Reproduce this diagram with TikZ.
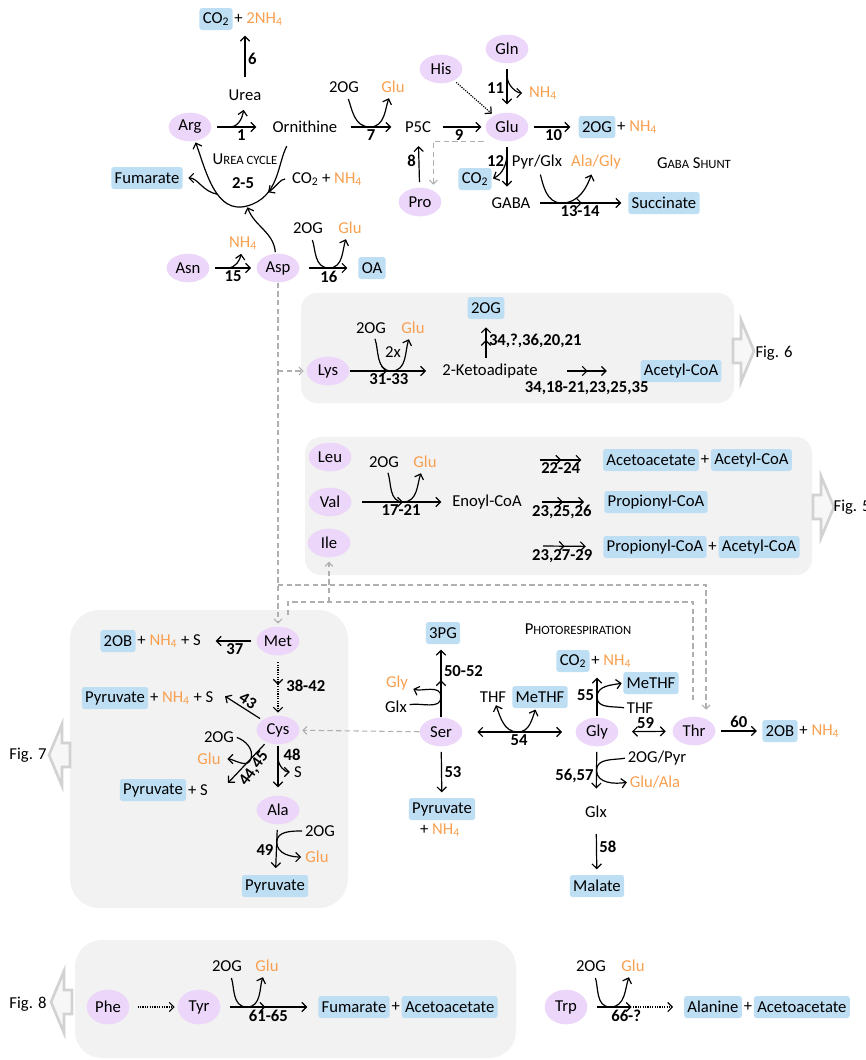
\documentclass[tikz,border=0pt]{standalone}
\usepackage{fontspec}
\setmainfont{Carlito}
\usetikzlibrary{arrows.meta, positioning, shapes.geometric, decorations.markings, calc}
\definecolor{aaviolet}{RGB}{236,214,250}
\definecolor{prodblue}{RGB}{190,222,244}
\definecolor{nhorange}{RGB}{249,160,80}
\definecolor{panelgray}{RGB}{242,242,242}
\definecolor{linkgray}{RGB}{175,175,175}
\newcommand{\nh}[1]{\textcolor{nhorange}{#1}}
\newcommand{\smallcap}[2]{#1{\fontsize{9.5}{11}\selectfont #2}}

\begin{document}
\begin{tikzpicture}[
    x=0.75pt, y=-0.75pt,
    font=\fontsize{12.5}{14}\selectfont,
    amino/.style={ellipse, fill=aaviolet, minimum width=32pt, minimum height=21.5pt, inner sep=0pt},
    prod/.style={rectangle, fill=prodblue, rounded corners=2pt, inner xsep=2.5pt, inner ysep=0pt, minimum height=16.5pt},
    cpd/.style={inner sep=1pt},
    num/.style={font=\fontsize{12.5}{14}\selectfont\bfseries, inner sep=1.8pt},
    rx/.style={-{Straight Barb[length=3.5pt,width=7pt]}, line width=0.9pt, shorten <=4pt, shorten >=4pt},
    rxx/.style={rx, arrows={Straight Barb[length=3.5pt,width=7pt]-Straight Barb[length=3.5pt,width=7pt]}},
    multi/.style={postaction={decorate}, decoration={markings, mark=at position #1 with {\arrow{Straight Barb[length=3.5pt,width=7pt]}}}},
    multi/.default=0.5,
    stepdots/.style={dash pattern=on 0.9pt off 0.9pt},
    link/.style={draw=linkgray, line width=0.8pt, dash pattern=on 4pt off 2.5pt, -{Straight Barb[length=3pt,width=6pt]}, shorten >=2pt},
    panel/.style={fill=panelgray, rounded corners=12pt},
    figarr/.style={draw=gray!35, fill=gray!6, line width=2pt},
    figright/.pic={\path[figarr] (0,-12) -- (8,-12) -- (8,-31) -- (21,0) -- (8,31) -- (8,12) -- (0,12) -- cycle;}
]
\useasboundingbox (0,0) rectangle (866,1060);

% panels and figure pointers
\fill[panel] (301,293) rectangle (734,403);
\fill[panel] (305,437) rectangle (812,575);
\fill[panel, rounded corners=22pt] (70,610) rectangle (348,908);
\fill[panel, rounded corners=20pt] (75,940) rectangle (516,1058);
\pic at (733,351) {figright};
\pic at (813,507) {figright};
\pic[xscale=-1] at (70,755) {figright};
\pic[xscale=-1] at (72,1002) {figright};
\node[cpd] (fig6) at (774,353) {Fig. 6};
\node[cpd, anchor=west] (fig5) at (832,507) {Fig. 5};
\node[cpd] (fig7) at (28,755) {Fig. 7};
\node[cpd] (fig8) at (28,1004) {Fig. 8};

% urea cycle, proline, glutamate
\node[prod] (co2u) at (216,19) {CO\textsubscript{2}};
\node[cpd, right=0pt of co2u] (nhu) {+ \nh{2NH\textsubscript{4}}};
\node[cpd] (urea) at (245,95) {Urea};
\node[amino] (arg) at (190,127) {Arg};
\node[cpd] (orn) at (305,127) {Ornithine};
\node[cpd] (og7) at (344,87) {2OG};
\node[cpd] (glu7) at (393,87) {\nh{Glu}};
\node[cpd] (p5c) at (418,127) {P5C};
\node[amino] (glu) at (507,127) {Glu};
\node[amino] (gln) at (507,49) {Gln};
\node[amino] (his) at (441,69) {His};
\node[cpd] (nh11) at (543,93) {\nh{NH\textsubscript{4}}};
\node[prod] (og10) at (597,127) {2OG};
\node[cpd, right=0pt of og10] (nh10) {+ \nh{NH\textsubscript{4}}};
\node[prod] (co2g) at (475,179) {CO\textsubscript{2}};
\node[cpd] (pyr12) at (537,162) {Pyr/Glx};
\node[cpd] (alagly) at (596,162) {\nh{Ala/Gly}};
\node[cpd] (shunt) at (694,163) {\smallcap{G}{ABA} \smallcap{S}{HUNT}};
\node[cpd] (gaba) at (511,203) {GABA};
\node[prod] (succ) at (664,203) {Succinate};
\node[amino] (pro) at (420,202) {Pro};
\node[cpd] (ucycle) at (245,159) {\smallcap{U}{REA CYCLE}};
\node[num] (l25) at (243,183) {2-5};
\node[prod] (fum) at (147,178) {Fumarate};
\node[cpd] (co2c) at (327,179) {CO\textsubscript{2} + \nh{NH\textsubscript{4}}};
\node[amino] (asn) at (188,268) {Asn};
\node[amino] (asp) at (278,268) {Asp};
\node[cpd] (nh15) at (243,243) {\nh{NH\textsubscript{4}}};
\node[cpd] (og16) at (308,228) {2OG};
\node[cpd] (glu16) at (350,228) {\nh{Glu}};
\node[prod] (oa) at (372,268) {OA};
\coordinate (ucb) at (247,206);

\draw[rx, shorten <=8pt] (urea) -- node[num,right]{6} (urea |- co2u.south);
\draw[rx, shorten >=11pt] (arg) -- coordinate[pos=0.3] (b1) node[num,below]{1} (orn);
\draw[rx, shorten <=0pt, shorten >=6pt] (b1) to[out=0,in=-100] (urea.south);
\draw[rx, shorten <=9pt, shorten >=9pt] (orn) -- coordinate[pos=0.48] (b7) node[num,below]{7} (p5c);
\draw[rx, shorten >=3pt] (og7) to[out=-70,in=180] (b7) to[out=0,in=-110] (glu7);
\draw[rx, shorten <=8pt, shorten >=3pt] (p5c) -- node[num,below]{9} (glu);
\draw[rx, stepdots, shorten <=2pt, shorten >=2pt] (his) -- (glu);
\draw[rx, shorten >=6pt] (gln) -- coordinate[pos=0.24] (b11) node[num,left]{11} (glu);
\draw[rx, shorten <=0pt] (b11) to[out=-90,in=180] (nh11);
\draw[rx, shorten >=6pt] (glu) -- node[num,below]{10} (og10);
\draw[rx, shorten >=7pt] (glu) -- coordinate[pos=0.2] (b12) node[num,left,pos=0.35]{12} (glu |- gaba.north);
\draw[rx, shorten <=0pt, shorten >=1pt] (b12) to[out=-90,in=25] (co2g.east);
\draw[rx, multi=0.52, shorten <=6pt, shorten >=5pt] (gaba) -- coordinate[pos=0.31] (b13) node[num,below]{13-14} (succ);
\draw[rx, shorten <=3pt, shorten >=3pt] (pyr12) to[out=-75,in=180] (b13) to[out=0,in=-110] (alagly);
\draw[rx, shorten >=9pt] (pro) -- node[num,left]{8} (p5c);
\draw[link] ([xshift=-6pt,yshift=-3pt]glu.south west) -| ([xshift=10pt]pro.north);
\draw[rx, shorten <=10pt, shorten >=1pt] ([xshift=-9pt]orn.south) to[out=-118,in=15] coordinate[pos=0.7] (bco2) (ucb)
    to[out=195,in=-70] coordinate[pos=0.42] (bfum) (arg);
\draw[rx, shorten <=0pt] (bfum) to[out=170,in=0] (fum);
\draw[rx, shorten >=0pt] (co2c) to[out=180,in=35] (bco2);
\draw[rx, shorten <=1pt, shorten >=1pt] (asp.100) to[out=95,in=-70] (ucb);
\draw[rx] (asn) -- coordinate[pos=0.38] (b15) node[num,below]{15} (asp);
\draw[rx, shorten <=0pt, shorten >=2pt] (b15) to[out=0,in=-100] (nh15);
\draw[rx, shorten <=7pt, shorten >=8pt] (asp) -- coordinate[pos=0.5] (b16) node[num,below]{16} (oa);
\draw[rx, shorten >=3pt] (og16) to[out=-70,in=180] (b16) to[out=0,in=-110] (glu16);

% lysine
\node[amino] (lys) at (328,371) {Lys};
\node[cpd] (og31) at (371,328) {2OG};
\node[cpd] (glu31) at (413,328) {\nh{Glu}};
\node[cpd] (x31) at (393,352) {2x};
\node[cpd] (kad) at (490,371) {2-Ketoadipate};
\node[prod] (og34) at (486,308) {2OG};
\node[prod] (acoa34) at (681,371) {Acetyl-CoA};
\draw[rx, multi=0.41, shorten <=0pt, shorten >=11pt] (lys) -- coordinate[pos=0.46] (b31) node[num,below,pos=0.43]{31-33} (kad);
\draw[rx, shorten <=3pt, shorten >=3pt] (og31) to[out=-70,in=180] (b31) to[out=0,in=-110] (glu31);
\draw[rx, multi=0.52, shorten <=3pt, shorten >=6pt] (kad.north -| og34) -- node[num,right]{34,?,36,20,21} (og34);
\draw[rx, multi=0.48, shorten <=21pt, shorten >=25pt] (kad) -- node[num,below,pos=0.47,yshift=-5pt]{34,18-21,23,25,35} (acoa34);

% branched-chain
\node[amino] (leu) at (330,457) {Leu};
\node[amino] (val) at (330,502) {Val};
\node[amino] (ile) at (329,543) {Ile};
\node[cpd] (og17) at (384,462) {2OG};
\node[cpd] (glu17) at (425,462) {\nh{Glu}};
\node[cpd] (enoyl) at (487,502) {Enoyl-CoA};
\node[prod] (acac22) at (651,460) {Acetoacetate};
\node[cpd, right=0pt of acac22] (pl22) {+};
\node[prod, right=0pt of pl22] (acoa22) {Acetyl-CoA};
\node[prod] (prop23) at (656,502) {Propionyl-CoA};
\node[prod] (prop27) at (655,547) {Propionyl-CoA};
\node[cpd, right=0pt of prop27] (pl27) {+};
\node[prod, right=0pt of pl27] (acoa27) {Acetyl-CoA};
\coordinate (s22) at (540,460);
\coordinate (s23) at (542,502);
\coordinate (s27) at (543,546);
\draw[rx, multi=0.52, shorten <=8pt, shorten >=7pt] (val) -- coordinate[pos=0.52] (b17) node[num,below]{17-21} (enoyl);
\draw[rx, shorten <=3pt, shorten >=3pt] (og17) to[out=-70,in=180] (b17) to[out=0,in=-110] (glu17);
\draw[rx, multi=0.34, shorten <=0pt, shorten >=16pt] (s22) -- node[num,below,pos=0.33]{22-24} (acac22);
\draw[rx, multi=0.34, shorten <=0pt, shorten >=15pt] (s23) -- node[num,below,pos=0.32]{23,25,26} (prop23);
\draw[rx, multi=0.36, shorten <=0pt, shorten >=13pt] (s27) -- node[num,below,pos=0.32]{23,27-29} (prop27);

% links between pathways
\coordinate (tjoin) at (278,585);
\coordinate (mjoin) at (288,602);
\coordinate (mtop) at (288,615);
\coordinate (ttop) at (693,703);
\node[amino] (met) at (278,641) {Met};
\node[amino] (cys) at (278,730) {Cys};
\node[amino] (ser) at (441,732) {Ser};
\node[amino] (thr) at (694,731) {Thr};
\draw[link] (asp) -- (met);
\draw[link] (asp |- lys) -- (lys);
\draw[link, shorten >=5pt] (tjoin) -| ([xshift=9pt]thr.north);
\draw[link, -] (mtop) -- (mjoin) -| (ttop);
\draw[link, shorten >=3pt] (ile |- mjoin) -- (ile);
\draw[link] (ser) -- (cys);

% sulfur amino acids
\node[prod] (ob37) at (118,641) {2OB};
\node[cpd, right=0pt of ob37] (p37) {+ \nh{NH\textsubscript{4}} + S};
\node[prod] (pyr43) at (115,698) {Pyruvate};
\node[cpd, right=0pt of pyr43] (p43) {+ \nh{NH\textsubscript{4}} + S};
\node[cpd] (og44) at (219,737) {2OG};
\node[cpd] (glu44) at (209,759) {\nh{Glu}};
\node[prod] (pyr44) at (153,790) {Pyruvate};
\node[cpd, right=0pt of pyr44] (p44) {+ S};
\node[cpd] (s48) at (298,772) {S};
\node[amino] (ala) at (278,810) {Ala};
\node[cpd] (og49) at (320,831) {2OG};
\node[cpd] (glu49) at (317,857) {\nh{Glu}};
\node[prod] (pyr49) at (275,886) {Pyruvate};
\draw[rx, shorten >=10pt] (met) -- node[num,below,pos=0.4]{37} (p37);
\draw[rx, stepdots, multi=0.49, shorten <=5pt, shorten >=2pt] (met) -- node[num,right,xshift=4pt]{38-42} (cys);
\draw[rx, shorten <=2pt, shorten >=9pt] (cys) -- node[num, pos=0.4, rotate=-33, anchor=south]{43} (p43.north east);
\draw[rx, shorten <=2pt, shorten >=0pt] (cys) -- coordinate[pos=0.4] (b44) node[num, pos=0.52, rotate=54, anchor=north]{44,45} ([xshift=14pt]p44.north east);
\draw[rx, shorten <=1pt] (og44.east) to[out=-20,in=75] (b44) to[out=255,in=0] (glu44.east);
\draw[rx, shorten <=1pt, shorten >=6pt] (cys) -- coordinate[pos=0.25] (b48) node[num,right,pos=0.2,xshift=2pt]{48} (ala);
\draw[rx, shorten <=0pt, shorten >=2pt] (b48) to[out=-90,in=180] (s48);
\draw[rx, shorten >=5pt] (ala) -- coordinate[pos=0.35] (b49) node[num,left]{49} (pyr49);
\draw[rx, shorten <=1pt, shorten >=2pt] (og49.west) to[out=180,in=90] (b49) to[out=-90,in=180] (glu49.west);

% serine, glycine, threonine
\node[cpd] (photo) at (578,629) {\smallcap{P}{HOTORESPIRATION}};
\node[prod] (pg3) at (443,633) {3PG};
\node[cpd] (gly50) at (397,683) {\nh{Gly}};
\node[cpd] (glx50) at (396,707) {Glx};
\node[cpd] (thf54) at (493,697) {THF};
\node[prod] (methf54) at (540,697) {MeTHF};
\node[amino] (gly) at (597,732) {Gly};
\node[prod] (co2p) at (573,661) {CO\textsubscript{2}};
\node[cpd, right=0pt of co2p] (nh55) {+ \nh{NH\textsubscript{4}}};
\node[prod] (methf55) at (651,683) {MeTHF};
\node[cpd] (thf55) at (640,708) {THF};
\node[prod] (ob60) at (780,731) {2OB};
\node[cpd, right=0pt of ob60] (nh60) {+ \nh{NH\textsubscript{4}}};
\node[prod] (pyr53) at (442,809) {Pyruvate};
\node[cpd] (nh53) at (440,830) {+ \nh{NH\textsubscript{4}}};
\node[cpd] (ogpyr) at (657,758) {2OG/Pyr};
\node[cpd] (gluala) at (655,782) {\nh{Glu/Ala}};
\node[cpd] (glx) at (596,812) {Glx};
\node[prod] (malate) at (597,886) {Malate};
\draw[rx, multi=0.51, shorten <=0pt] (ser) -- coordinate[pos=0.28] (b50) node[num,right,pos=0.64]{50-52} (ser |- pg3.south);
\draw[rx, shorten <=1pt, shorten >=3pt] (glx50) to[out=10,in=-90] (b50) to[out=90,in=-20] (gly50);
\draw[rxx, shorten <=11pt, shorten >=10pt] (ser) -- coordinate[pos=0.49] (b54) node[num,below]{54} (gly);
\draw[rxx, shorten <=1pt, shorten >=1pt] (thf54) to[out=-70,in=180] (b54) to[out=0,in=-110] (methf54);
\draw[rx, shorten <=1pt] (gly) -- coordinate[pos=0.45] (b55) node[num,left]{55} (gly |- co2p.south);
\draw[rx, shorten <=1pt, shorten >=1pt] (thf55.west) to[out=170,in=-90] (b55) to[out=90,in=190] (methf55.west);
\draw[rxx, shorten <=10pt, shorten >=5pt] (gly) -- node[num,above]{59} (thr);
\draw[rx] (thr) -- node[num,above]{60} (ob60);
\draw[rx] (ser) -- node[num,right]{53} (pyr53);
\draw[rx, shorten >=12pt] (gly) -- coordinate[pos=0.41] (b56) node[num,left]{56,57} (glx);
\draw[rx, shorten <=1pt, shorten >=1pt] (ogpyr.west) to[out=190,in=90] (b56) to[out=-90,in=190] (gluala.west);
\draw[rx, shorten <=11pt] (glx) -- node[num,right]{58} (malate);

% aromatic amino acids
\node[amino, minimum height=26pt] (phe) at (108,1007) {Phe};
\node[amino, minimum height=26pt] (tyr) at (199,1007) {Tyr};
\node[cpd] (og61) at (227,966) {2OG};
\node[cpd] (glu61) at (267,966) {\nh{Glu}};
\node[prod] (fum61) at (354,1007) {Fumarate};
\node[cpd, right=0pt of fum61] (pl61) {+};
\node[prod, right=0pt of pl61] (acac61) {Acetoacetate};
\node[amino, minimum height=26pt] (trp) at (566,1007) {Trp};
\node[cpd] (og66) at (591,966) {2OG};
\node[cpd] (glu66) at (633,966) {\nh{Glu}};
\node[prod] (ala66) at (713,1007) {Alanine};
\node[cpd, right=0pt of ala66] (pl66) {+};
\node[prod, right=0pt of pl66] (acac66) {Acetoacetate};
\coordinate (m66) at (633,1007);
\draw[rx, stepdots, shorten <=6pt, shorten >=2pt] (phe) -- (tyr);
\draw[rx, multi=0.46, shorten <=7pt, shorten >=8pt] (tyr) -- coordinate[pos=0.27] (b61) node[num,below,pos=0.49]{61-65} (fum61);
\draw[rx, shorten >=3pt] (og61) to[out=-70,in=180] (b61) to[out=0,in=-110] (glu61);
\draw[rx, shorten <=7pt, shorten >=1pt] (trp) -- coordinate[pos=0.5] (b66) node[num,below,pos=0.85]{66-?} (m66);
\draw[rx, stepdots, shorten <=0pt, shorten >=8pt] (m66) -- (ala66);
\draw[rx, shorten >=3pt] (og66) to[out=-70,in=180] (b66) to[out=0,in=-110] (glu66);
\end{tikzpicture}
\end{document}
